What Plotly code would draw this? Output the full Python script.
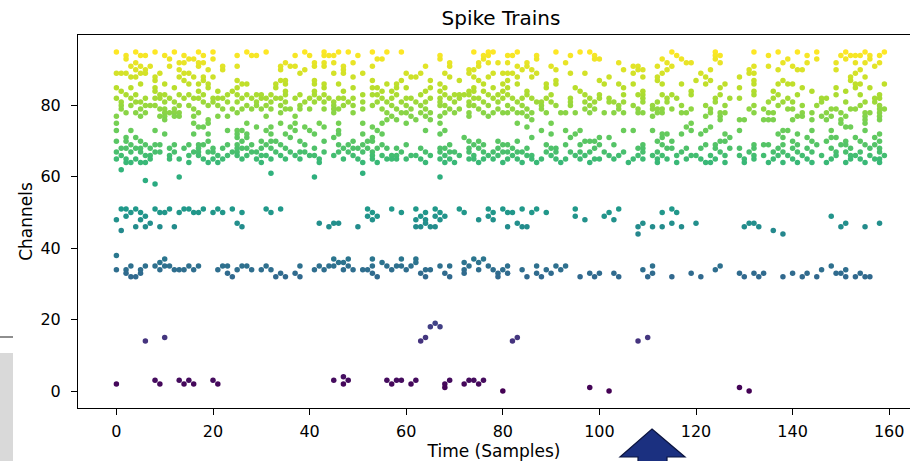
import plotly.graph_objects as go

# ---- data: spike times per channel ----
spikes_high = {
    95: [0, 4, 8, 12, 17, 20, 27, 31, 39, 43, 46, 48, 53, 56, 59, 74, 77, 78, 83, 91, 96, 98, 115, 124, 132, 137, 141, 145, 151, 155, 159],
    94: [2, 5, 6, 10, 14, 18, 25, 28, 29, 37, 40, 43, 44, 45, 50, 67, 76, 77, 81, 82, 87, 94, 99, 116, 124, 125, 135, 143, 150, 152, 153, 154, 156, 158],
    93: [2, 11, 15, 16, 20, 54, 55, 67, 76, 87, 99, 100, 113, 117, 124, 139, 145, 151, 156],
    92: [4, 13, 14, 17, 18, 35, 41, 43, 45, 49, 69, 75, 77, 79, 81, 85, 93, 104, 114, 118, 119, 125, 138, 143, 149, 153, 155, 158],
    91: [3, 5, 7, 11, 17, 22, 25, 34, 36, 37, 41, 43, 47, 53, 64, 69, 75, 83, 85, 90, 107, 108, 112, 115, 132, 135, 140, 157],
    90: [4, 6, 13, 19, 22, 34, 39, 47, 73, 74, 84, 86, 91, 105, 108, 109, 114, 123, 131, 137, 141, 142, 149, 154],
    89: [0, 1, 2, 5, 6, 9, 14, 15, 38, 45, 47, 51, 60, 63, 68, 73, 78, 80, 81, 82, 87, 94, 97, 107, 113, 121, 131, 132, 153],
    88: [3, 4, 8, 13, 16, 18, 20, 49, 61, 62, 69, 74, 77, 83, 86, 102, 109, 112, 122, 129, 152, 155],
    87: [8, 14, 18, 25, 34, 35, 41, 53, 59, 65, 71, 75, 81, 91, 100, 112, 120, 123, 132, 138, 152],
    86: [5, 10, 15, 17, 19, 26, 27, 33, 35, 41, 43, 46, 56, 58, 67, 76, 80, 83, 89, 91, 101, 104, 107, 113, 117, 122, 126, 132, 137, 139, 140, 153, 154, 159],
    85: [0, 3, 8, 12, 19, 25, 33, 43, 49, 53, 54, 58, 60, 65, 68, 74, 78, 81, 89, 95, 105, 125, 129, 142, 149, 153, 156],
    84: [1, 8, 17, 21, 24, 35, 41, 47, 55, 57, 64, 67, 73, 74, 76, 80, 85, 96, 109, 119, 132, 136, 144, 151],
    83: [2, 4, 9, 10, 13, 15, 18, 23, 25, 27, 29, 30, 32, 35, 38, 41, 43, 51, 53, 54, 58, 63, 68, 70, 71, 72, 73, 77, 79,
         81, 85, 90, 97, 100, 105, 108, 109, 113, 115, 119, 125, 132, 137, 141, 149, 154, 158],
    82: [0, 3, 6, 8, 9, 11, 14, 16, 17, 20, 21, 22, 26, 28, 30, 31, 33, 34, 37, 40, 42, 44, 46, 47, 49, 55, 57, 60, 61, 65,
         67, 69, 71, 74, 75, 78, 80, 82, 84, 86, 89, 94, 98, 100, 102, 109, 114, 116, 124, 127, 129, 136, 139, 146, 147, 157, 158],
    81: [1, 4, 5, 10, 12, 18, 20, 23, 25, 29, 32, 35, 39, 41, 43, 45, 48, 51, 54, 56, 59, 62, 64, 67, 70, 73, 76, 79,
         83, 87, 88, 90, 94, 97, 99, 102, 103, 105, 109, 112, 114, 124, 135, 138, 140, 146, 151, 155, 157],
    80: [1, 3, 6, 7, 8, 13, 15, 19, 21, 27, 29, 31, 34, 38, 45, 47, 49, 53, 57, 60, 63, 67, 68, 73, 74, 77, 81,
         84, 88, 91, 94, 98, 104, 107, 111, 117, 122, 126, 132, 137, 142, 145, 154, 158],
    79: [1, 5, 9, 10, 12, 16, 22, 24, 26, 28, 30, 32, 35, 36, 38, 40, 43, 45, 46, 51, 55, 58, 61, 64, 69, 71, 75, 79,
         82, 85, 88, 97, 99, 104, 108, 111, 112, 113, 115, 119, 123, 131, 134, 139, 140, 148, 149, 152, 153, 158, 159],
    78: [2, 4, 6, 10, 11, 12, 13, 17, 25, 34, 45, 49, 56, 59, 60, 63, 65, 68, 70, 73, 76, 78, 80, 81, 83, 84, 86, 89, 92,
         93, 95, 98, 101, 103, 105, 108, 109, 112, 113, 117, 118, 123, 125, 126, 132, 135, 136, 142, 144, 147, 150, 155, 156, 158],
    77: [0, 5, 9, 10, 12, 13, 16, 21, 23, 31, 37, 57, 61, 64, 67, 73, 77, 85, 111, 122, 125, 141, 142, 146, 148, 151, 155, 158],
    76: [10, 19, 56, 58, 62, 65, 86, 125, 129, 130, 134, 135, 136, 140, 144, 147, 150, 155, 158],
    75: [0, 16, 19, 27, 34, 37, 42, 46, 51, 55, 60, 67, 83, 90, 119, 150, 155],
    74: [17, 18, 29, 32, 36, 39, 43, 53, 85, 118, 123, 151, 152],
    73: [0, 3, 8, 23, 25, 26, 31, 37, 40, 46, 54, 64, 68, 88, 93, 96, 105, 107, 111, 119, 122, 129, 138, 139, 144, 148, 155],
    72: [10, 16, 19, 25, 27, 32, 35, 41, 46, 51, 55, 67, 90, 95, 113, 114, 117, 121, 126, 137, 141, 158],
    71: [2, 4, 25, 27, 36, 45, 53, 72, 86, 94, 100, 102, 113, 127, 138, 143, 148, 149, 153, 157],
    70: [0, 2, 5, 19, 26, 30, 32, 33, 38, 43, 49, 52, 53, 73, 75, 79, 83, 97, 98, 99, 112, 115, 125, 126, 140, 144, 147, 151, 154, 158],
    69: [3, 6, 8, 9, 12, 15, 17, 18, 23, 25, 28, 31, 34, 39, 46, 48, 51, 55, 60, 69, 74, 76, 80, 81, 89, 93, 96, 100, 103,
         109, 113, 122, 124, 132, 134, 135, 138, 141, 145, 150, 151, 155, 157],
    68: [1, 2, 4, 5, 7, 11, 14, 17, 20, 22, 25, 26, 27, 30, 32, 35, 41, 47, 49, 50, 52, 54, 56, 58, 63, 67, 68, 73, 75, 79,
         82, 85, 90, 91, 99, 108, 109, 114, 115, 118, 121, 124, 127, 129, 132, 137, 140, 143, 148, 152, 156, 158],
    67: [0, 3, 5, 8, 9, 12, 16, 17, 19, 20, 24, 25, 28, 29, 33, 36, 38, 39, 43, 46, 48, 51, 53, 59, 64, 67, 69, 70, 73, 76,
         78, 80, 81, 83, 84, 89, 91, 94, 96, 98, 101, 105, 109, 112, 117, 125, 131, 136, 138, 141, 144, 149, 151, 154, 158],
    66: [1, 6, 7, 11, 15, 17, 21, 23, 25, 27, 30, 31, 34, 37, 40, 41, 45, 49, 53, 55, 57, 58, 61, 62, 65, 68, 71, 74, 77,
         79, 82, 85, 86, 90, 95, 97, 102, 104, 108, 111, 113, 116, 119, 120, 123, 126, 129, 132, 134, 137, 139, 142, 146,
         149, 152, 153, 156, 159],
    65: [0, 2, 4, 7, 11, 13, 18, 20, 22, 26, 29, 32, 35, 38, 42, 47, 50, 53, 56, 57, 58, 60, 63, 67, 69, 73, 74, 76, 78,
         81, 83, 86, 88, 91, 93, 96, 99, 100, 103, 107, 109, 112, 114, 118, 121, 124, 130, 132, 136, 140, 143, 148, 152,
         154, 157, 158],
    64: [2, 3, 5, 6, 15, 19, 21, 30, 42, 51, 54, 64, 68, 70, 75, 80, 84, 87, 92, 98, 106, 112, 116, 122, 123, 126, 130,
         135, 138, 141, 144, 147, 151, 155, 158],
}

spikes_mid = {
    62: [1],
    61: [32, 51],
    60: [13, 41, 67],
    59: [6],
    58: [8],
    51: [1, 2, 4, 8, 11, 14, 15, 18, 21, 24, 31, 34, 52, 57, 62, 66, 71, 77, 80, 84, 87, 95, 104, 115],
    50: [3, 5, 9, 10, 13, 16, 17, 20, 22, 26, 32, 53, 59, 64, 67, 72, 78, 81, 82, 86, 89, 102, 113, 116],
    49: [2, 6, 52, 54, 63, 66, 68, 77, 95, 101, 148],
    48: [0, 5, 53, 62, 64, 67, 75, 78, 97, 103],
    47: [7, 25, 42, 45, 46, 64, 83, 109, 115, 120, 131, 132, 151, 158],
    46: [4, 6, 9, 12, 26, 44, 50, 62, 63, 65, 66, 81, 84, 85, 108, 111, 113, 117, 130, 133, 150, 155],
    45: [1, 136],
    44: [108, 138],
    38: [0],
    37: [10, 45, 48, 53, 59, 62, 74, 76],
    36: [9, 46, 47, 55, 62, 72, 75],
    35: [3, 6, 8, 10, 11, 15, 17, 22, 23, 26, 27, 31, 38, 42, 44, 45, 48, 53, 56, 58, 59, 61, 67, 69, 73, 77, 81, 87,
         91, 93, 111, 125, 148],
    34: [0, 2, 5, 9, 12, 13, 14, 16, 21, 25, 28, 30, 32, 41, 43, 47, 49, 51, 52, 57, 60, 64, 65, 72, 75, 78, 80, 84,
         89, 92, 109, 124, 146, 151],
    33: [2, 5, 23, 34, 37, 53, 63, 68, 72, 79, 81, 87, 90, 98, 100, 103, 111, 119, 129, 132, 134, 140, 143, 149, 150, 154],
    32: [3, 4, 24, 33, 35, 38, 54, 64, 69, 79, 85, 88, 96, 99, 104, 110, 115, 121, 130, 133, 138, 142, 145, 151, 153,
         155, 156],
}

spikes_low = {
    19: [66],
    18: [65, 67],
    15: [10, 64, 83, 110],
    14: [6, 63, 82, 108],
    4: [47],
    3: [8, 13, 15, 20, 45, 48, 56, 58, 59, 62, 69, 73, 74, 76],
    2: [0, 9, 14, 16, 21, 47, 57, 61, 68, 72, 75],
    1: [68, 98, 129],
    0: [80, 102, 131],
}

y_ticks = [0, 20, 40, 60, 80]
x_ticks = [0, 20, 40, 60, 80, 100, 120, 140, 160]
n_channels = 96

# ---- flatten ----
times, chans = [], []
for group in (spikes_low, spikes_mid, spikes_high):
    for ch, ts in group.items():
        for t in ts:
            times.append(t)
            chans.append(ch)

t_max = max(times)
ch_max = n_channels - 1

W, H = 910, 461
L, R, T, B = 78, 0, 35, 53
plot_w = W - L - R
plot_h = H - T - B
px_per_unit = 4.83
x_lo = -0.05 * t_max
x_hi = x_lo + plot_w / px_per_unit

def px(x):
    return (x - L) / plot_w

def py(y):
    return (H - B - y) / plot_h

fig = go.Figure()
fig.add_trace(go.Scatter(
    x=times, y=chans, mode="markers",
    marker=dict(size=5.5, color=chans, colorscale="Viridis", cmin=0, cmax=ch_max,
                line=dict(width=0)),
    showlegend=False, hoverinfo="skip",
))

font = "DejaVu Sans"
fig.update_layout(
    width=W, height=H,
    margin=dict(l=L, r=R, t=T, b=B, autoexpand=False),
    paper_bgcolor="white", plot_bgcolor="white",
    font=dict(family=font, size=16, color="black"),
    title=dict(text="Spike Trains", x=501 / W, xref="container", xanchor="center",
               y=1 - 18 / H, yanchor="middle",
               font=dict(size=20, family=font, color="black")),
    xaxis=dict(range=[x_lo, x_hi], tickvals=x_ticks, showgrid=False, zeroline=False,
               showline=True, linecolor="black", linewidth=1.1, mirror=True,
               ticks="outside", ticklen=6, tickwidth=1.1, tickcolor="black",
               tickfont=dict(size=16), ticklabelstandoff=3,
               title=dict(text="Time (Samples)", standoff=6, font=dict(size=17))),
    yaxis=dict(range=[-0.05 * ch_max, 1.05 * ch_max], tickvals=y_ticks, showgrid=False, zeroline=False,
               showline=True, linecolor="black", linewidth=1.1, mirror=False,
               ticks="outside", ticklen=6, tickwidth=1.1, tickcolor="black",
               tickfont=dict(size=16), ticklabelstandoff=7,
               title=dict(text="Channels", standoff=3, font=dict(size=17))),
)

# ---- screenshot overlays outside the axes ----
shapes = [
    dict(type="rect", xref="paper", yref="paper", x0=px(0), x1=px(13), y0=py(461), y1=py(353),
         fillcolor="#d9d9d9", line=dict(width=0), layer="above"),
    dict(type="line", xref="paper", yref="paper", x0=px(0), x1=px(13), y0=py(337), y1=py(337),
         line=dict(color="#444444", width=1.2), layer="above"),
]
arrow_pts = [(652, 429), (685, 457), (667, 457), (667, 470), (638, 470), (638, 457), (620, 457)]
path = "M " + " L ".join(f"{px(a):.5f},{py(b):.5f}" for a, b in arrow_pts) + " Z"
shapes.append(dict(type="path", xref="paper", yref="paper", path=path,
                   fillcolor="#1b3080", line=dict(color="#0b1440", width=1.2), layer="above"))
fig.update_layout(shapes=shapes)

fig.write_html("out.html", config={"displayModeBar": False},
               post_script="document.body.style.margin='0';")
